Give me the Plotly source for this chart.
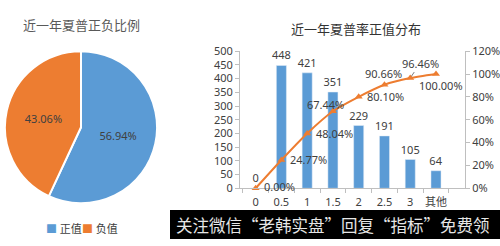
import plotly.graph_objects as go

pie_labels = ["正值", "负值"]
pie_values = [56.94, 43.06]

categories = ["0", "0.5", "1", "1.5", "2", "2.5", "3", "其他"]
counts = [0, 448, 421, 351, 229, 191, 105, 64]
cum_pct = [0.00, 24.77, 48.04, 67.44, 80.10, 90.66, 96.46, 100.00]

W, H = 500, 246
FONT = "Noto Sans, Noto Sans CJK SC"
BLUE = "#5b9bd5"
ORANGE = "#ed7d31"
TXT = "#404040"
PIE_COLORS = [BLUE, ORANGE]

fig = go.Figure()

fig.add_trace(go.Pie(
    labels=pie_labels, values=pie_values, sort=False, direction="clockwise",
    marker=dict(colors=PIE_COLORS, line=dict(color="white", width=2)),
    texttemplate="%{value:.2f}%", textposition="inside", insidetextorientation="horizontal",
    textfont=dict(size=11, color=TXT, family=FONT),
    domain=dict(x=[0, 162/W], y=[38/H, 200/H]), showlegend=False,
    hoverinfo="skip",
))

fig.add_trace(go.Bar(
    x=categories, y=counts, marker_color=BLUE, width=0.39,
    text=[str(v) for v in counts], textposition="outside", cliponaxis=False,
    constraintext="none",
    textfont=dict(size=11, color=TXT, family=FONT), showlegend=False,
))

fig.add_trace(go.Scatter(
    x=categories, y=cum_pct, yaxis="y2", mode="lines+markers",
    line=dict(color=ORANGE, width=2, shape="spline", smoothing=0.6),
    marker=dict(symbol="triangle-up", size=7, color=ORANGE), showlegend=False,
    cliponaxis=False,
))

# label offsets (pixels) for the cumulative line; the 96.46% label has a leader line
offsets = [(24, 2), (27, 0), (27, 0), (-7, 7), (27, 0), (-1, 11), (10, 15), (5, -11)]
for i, (v, (dx, dy)) in enumerate(zip(cum_pct, offsets)):
    if i == 6:
        fig.add_annotation(x=i, y=v, xref="x", yref="y2", text=f"{v:.2f}%",
                           showarrow=True, ax=dx, ay=-dy, arrowhead=0,
                           arrowwidth=0.8, arrowcolor="#595959", standoff=2,
                           xanchor="center", yanchor="middle",
                           font=dict(size=11, color=TXT, family=FONT))
    else:
        fig.add_annotation(x=i, y=v, xref="x", yref="y2", text=f"{v:.2f}%",
                           showarrow=False, xshift=dx, yshift=dy,
                           xanchor="center", yanchor="middle",
                           font=dict(size=11, color=TXT, family=FONT))

axis_line = dict(showline=True, linecolor="#bfbfbf", linewidth=1)
fig.update_layout(
    width=W, height=H, margin=dict(l=0, r=0, t=0, b=0),
    paper_bgcolor="white", plot_bgcolor="white",
    font=dict(family=FONT, size=11, color=TXT),
    xaxis=dict(type="category", domain=[240/W, 465/W], anchor="y", **axis_line,
               ticks="outside", tickson="boundaries", ticklen=4, tickcolor="#bfbfbf",
               tickangle=0, ticklabelstandoff=4,
               tickfont=dict(size=11, color=TXT), showgrid=False, fixedrange=True),
    yaxis=dict(domain=[54/H, 200/H], range=[0, 500], dtick=50, **axis_line,
               ticks="outside", ticklen=4, tickcolor="#bfbfbf", showgrid=False,
               zeroline=False, tickfont=dict(size=11, color=TXT)),
    yaxis2=dict(overlaying="y", side="right", range=[0, 120], dtick=20,
                ticksuffix="%", **axis_line, ticks="outside", ticklen=4,
                tickcolor="#bfbfbf", showgrid=False, zeroline=False,
                tickfont=dict(size=11, color=TXT), anchor="x"),
    showlegend=False,
)

# pie legend as text
for lab, col, x in zip(pie_labels, PIE_COLORS, [64, 100]):
    fig.add_annotation(x=x/W, y=1-235/H, xref="paper", yref="paper",
                       text=f"<span style='color:{col}'>■</span> {lab}",
                       showarrow=False, xanchor="center", yanchor="middle",
                       font=dict(size=11, color=TXT, family=FONT))

fig.add_annotation(x=81/W, y=1-18/H, xref="paper", yref="paper", text="近一年夏普正负比例",
                   showarrow=False, xanchor="center", yanchor="middle",
                   font=dict(size=13, color="#595959", family=FONT))
fig.add_annotation(x=356/W, y=1-22/H, xref="paper", yref="paper", text="近一年夏普率正值分布",
                   showarrow=False, xanchor="center", yanchor="middle",
                   font=dict(size=13, color="#333333", family=FONT))

fig.add_shape(type="rect", xref="paper", yref="paper", x0=170/W, x1=1, y0=0, y1=31/H,
              fillcolor="black", line=dict(width=0), layer="above")
fig.add_annotation(x=333/W, y=15/H, xref="paper", yref="paper",
                   text="关注微信“老韩实盘”回复“指标”免费领", showarrow=False,
                   xanchor="center", yanchor="middle",
                   font=dict(size=16.5, color="#e6e6e6", family="Noto Sans CJK SC"))

fig.write_html("out.html")
